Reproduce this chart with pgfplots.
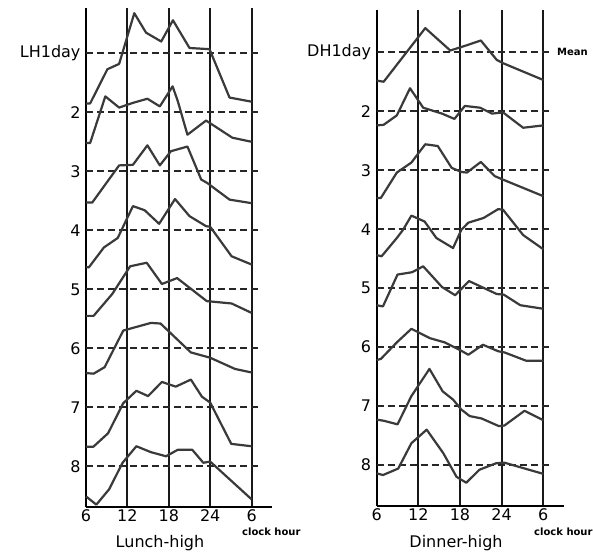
\documentclass[border=0pt]{standalone}
\usepackage{pgfplots}
\pgfplotsset{compat=1.18}
\usepackage{fontspec}
\setmainfont{DejaVu Sans}
\definecolor{curve}{HTML}{3A3A3A}
\pgfplotsset{
  panel/.style={
    scale only axis,
    xmin=6, xmax=33,
    y filter/.expression={-y},
    axis x line*=bottom,
    axis y line*=left,
    axis line style={-, line width=2pt, black},
    xtick={6,12,18,24,30},
    xticklabels={6,12,18,24,6},
    ytick={-1,-2,-3,-4,-5,-6,-7,-8},
    major tick length=0pt,
    xmajorgrids,
    grid style={line width=2pt, black!90},
    tick label style={font=\fontsize{16}{18}\selectfont},
    /pgf/number format/assume math mode=true,
    yticklabel style={xshift=-2pt},
    xticklabel style={yshift=1pt},
    clip=false,
  },
  cv/.style={line width=2.2pt, curve, line join=round},
  dl/.style={line width=1.8pt, black!85, dash pattern=on 7pt off 4pt},
}
\begin{document}
\begin{tikzpicture}
% ---------------- Lunch-high ----------------
\begin{axis}[panel, at={(86pt,-507pt)}, anchor=south west,
  width=186.3pt, height=499pt, ymin=-8.69, ymax=-0.232,
  yticklabels={LH1day,2,3,4,5,6,7,8}]
\pgfplotsinvokeforeach{1,...,8}{\addplot[dl] coordinates {(6,#1) (30.9,#1)};}
\addplot[cv] coordinates {(6,1.85) (6.6,1.85) (9.1,1.27) (10.8,1.18) (13,0.32) (14.7,0.65) (16.9,0.80) (18.6,0.44) (21,0.91) (23.9,0.93) (26.8,1.75) (30,1.82)};
\addplot[cv] coordinates {(6,2.52) (6.6,2.52) (8.8,1.73) (10.8,1.92) (12.8,1.84) (14.9,1.77) (16.7,1.90) (18.55,1.56) (19.3,1.81) (20.7,2.38) (23.4,2.14) (27.2,2.43) (30,2.50)};
\addplot[cv] coordinates {(6,3.53) (6.9,3.53) (10.8,2.90) (12.8,2.89) (14.9,2.56) (16.7,2.90) (18.3,2.66) (20.7,2.58) (22.7,3.14) (23.6,3.20) (26.8,3.48) (30,3.54)};
\addplot[cv] coordinates {(6,4.62) (6.4,4.63) (8.6,4.29) (10.6,4.13) (12.8,3.59) (14.5,3.66) (16.6,3.89) (18.9,3.47) (21.0,3.76) (23.4,3.93) (24,3.94) (27.1,4.44) (30,4.58)};
\addplot[cv] coordinates {(6,5.45) (7.1,5.45) (9.8,5.08) (12.4,4.61) (14.8,4.55) (17.0,4.91) (19.2,4.81) (23.5,5.20) (27.1,5.24) (30,5.40)};
\addplot[cv] coordinates {(6,6.42) (7.1,6.43) (8.7,6.32) (11.4,5.70) (12.3,5.67) (15.4,5.57) (16.8,5.58) (21.2,6.07) (24.0,6.16) (27.6,6.35) (30,6.41)};
\addplot[cv] coordinates {(6,7.67) (7.05,7.67) (9.2,7.44) (11.4,6.93) (13.3,6.72) (15.0,6.81) (17.0,6.57) (19.0,6.65) (21.2,6.53) (22.8,6.82) (24.0,6.92) (27.05,7.62) (30,7.66)};
\addplot[cv] coordinates {(6,8.51) (7.5,8.65) (9.35,8.39) (11.3,7.94) (13.3,7.66) (15.4,7.76) (17.6,7.83) (19.3,7.72) (21.4,7.72) (23.0,7.94) (24.0,7.92) (30,8.56)};
\end{axis}
% ---------------- Dinner-high ----------------
\begin{axis}[panel, at={(376.7pt,-506pt)}, anchor=south west,
  width=187.4pt, height=496pt, ymin=-8.695, ymax=-0.283,
  yticklabels={DH1day,2,3,4,5,6,7,8}]
\pgfplotsinvokeforeach{1,...,8}{\addplot[dl] coordinates {(6,#1) (31.3,#1)};}
\addplot[cv] coordinates {(6,1.48) (7.0,1.50) (13.0,0.59) (16.6,0.97) (19.0,0.88) (21.0,0.80) (23.3,1.13) (24.3,1.19) (30,1.47)};
\addplot[cv] coordinates {(6,2.24) (7.0,2.23) (8.9,2.07) (10.8,1.61) (12.7,1.94) (15.4,2.04) (17.2,2.13) (18.7,1.91) (20.9,1.94) (22.6,2.04) (24.2,2.02) (27.1,2.28) (30,2.24)};
\addplot[cv] coordinates {(6,3.47) (6.6,3.47) (8.9,3.04) (11.0,2.87) (13.0,2.56) (14.8,2.59) (16.8,2.96) (18.2,3.03) (19.0,3.04) (21.0,2.86) (23.0,3.10) (24.2,3.16) (30,3.44)};
\addplot[cv] coordinates {(6,4.44) (6.7,4.46) (8.9,4.15) (9.8,4.01) (11.0,3.77) (12.9,3.87) (14.6,4.15) (17.0,4.32) (18.2,4.01) (19.2,3.89) (21.4,3.81) (23.5,3.66) (24.2,3.67) (27.1,4.10) (30,4.34)};
\addplot[cv] coordinates {(6,5.29) (6.9,5.31) (9.0,4.77) (11.1,4.73) (12.7,4.63) (15.4,4.98) (17.3,5.12) (19.3,4.88) (23.3,5.10) (24.3,5.11) (26.7,5.29) (30,5.35)};
\addplot[cv] coordinates {(6,6.22) (6.6,6.20) (8.9,5.92) (11.0,5.69) (13.7,5.85) (15.8,5.92) (18.0,6.05) (19.2,6.13) (21.3,5.96) (23.5,6.07) (24.4,6.09) (27.5,6.23) (30,6.23)};
\addplot[cv] coordinates {(6,7.23) (7.05,7.25) (9.0,7.31) (11.0,6.83) (13.6,6.37) (15.5,6.75) (17.0,6.89) (18.2,7.06) (19.4,7.17) (21.1,7.21) (23.6,7.34) (24.4,7.33) (27.3,7.08) (30,7.24)};
\addplot[cv] coordinates {(6,8.14) (6.9,8.17) (9.1,8.06) (11.0,7.63) (13.2,7.40) (15.6,7.80) (17.5,8.20) (18.9,8.30) (20.8,8.08) (23.2,7.97) (24.4,7.96) (30,8.15)};
\end{axis}
% ---------------- texts ----------------
\node[font=\fontsize{16}{18}\selectfont] at (160pt,-543pt) {Lunch-high};
\node[font=\fontsize{16}{18}\selectfont] at (456pt,-543pt) {Dinner-high};
\node[anchor=west, inner sep=0pt, font=\bfseries\fontsize{10}{12}\selectfont] at (242pt,-532pt) {clock hour};
\node[anchor=west, inner sep=0pt, font=\bfseries\fontsize{10}{12}\selectfont] at (534pt,-532pt) {clock hour};
\node[anchor=west, inner sep=0pt, font=\bfseries\fontsize{10}{12}\selectfont] at (557pt,-52.3pt) {Mean};
\pgfresetboundingbox
\path (0pt,0pt) rectangle (593pt,-551pt);
\end{tikzpicture}
\end{document}
